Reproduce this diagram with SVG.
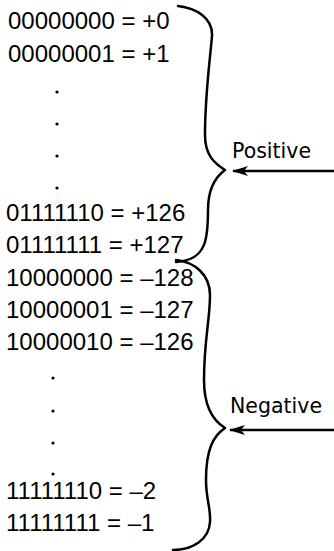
<svg xmlns="http://www.w3.org/2000/svg" width="334" height="551" viewBox="0 0 334 551">
<style>
.val{font-family:"Liberation Sans",Arial,sans-serif;font-size:24px;fill:#000}
.lbl{font-family:"DejaVu Sans","Liberation Sans",sans-serif;font-size:20.5px;fill:#000}
.brace{fill:none;stroke:#000;stroke-width:2.5;stroke-linecap:round;stroke-linejoin:round}
.arrow{fill:none;stroke:#000;stroke-width:2.5}
.dot{fill:#000}
</style>
<defs>
<marker id="ah" viewBox="0 0 16 10" refX="15" refY="5" markerWidth="16" markerHeight="10" markerUnits="userSpaceOnUse" orient="auto">
<path d="M16,5 L0,0 L4,5 L0,10 Z" fill="#000"/>
</marker>
</defs>
<rect width="334" height="551" fill="#fff"/>
<g id="values" class="val">
<text class="val" x="8" y="29">00000000 = +0</text>
<text class="val" x="8" y="62">00000001 = +1</text>
<circle class="dot" cx="57" cy="92" r="1.6"/>
<circle class="dot" cx="57" cy="124" r="1.6"/>
<circle class="dot" cx="57" cy="156" r="1.6"/>
<circle class="dot" cx="57" cy="188" r="1.6"/>
<text class="val" x="6" y="221">01111110 = +126</text>
<text class="val" x="6" y="253">01111111 = +127</text>
<text class="val" x="6" y="286">10000000 = –128</text>
<text class="val" x="6" y="318">10000001 = –127</text>
<text class="val" x="6" y="350">10000010 = –126</text>
<circle class="dot" cx="53" cy="378" r="1.6"/>
<circle class="dot" cx="53" cy="411" r="1.6"/>
<circle class="dot" cx="53" cy="443" r="1.6"/>
<circle class="dot" cx="53" cy="474" r="1.6"/>
<text class="val" x="6" y="499">11111110 = –2</text>
<text class="val" x="6" y="531">11111111 = –1</text>
</g>
<g id="positive">
<path class="brace" d="M178,6 C196,8 213,18 212,36 C210,60 205,95 205,135 C205,155 214,163 225,170 C214,178 208,190 208,210 C208,222 207,235 205,242 C201,255 192,261 176,262"/>
<text class="lbl" x="232" y="158">Positive</text>
</g>
<g id="negative">
<path class="brace" d="M176,260 C195,262 210,275 210,295 C210,320 204,340 204,380 C204,405 212,420 225,428 C213,436 206,450 206,480 C206,500 211,508 210,522 C209,540 192,550 173,550"/>
<text class="lbl" x="230" y="413">Negative</text>
</g>
<g id="connectors">
<path class="arrow" d="M334,171 L233,171" marker-end="url(#ah)"/>
<path class="arrow" d="M334,430 L230,430" marker-end="url(#ah)"/>
</g>
</svg>
